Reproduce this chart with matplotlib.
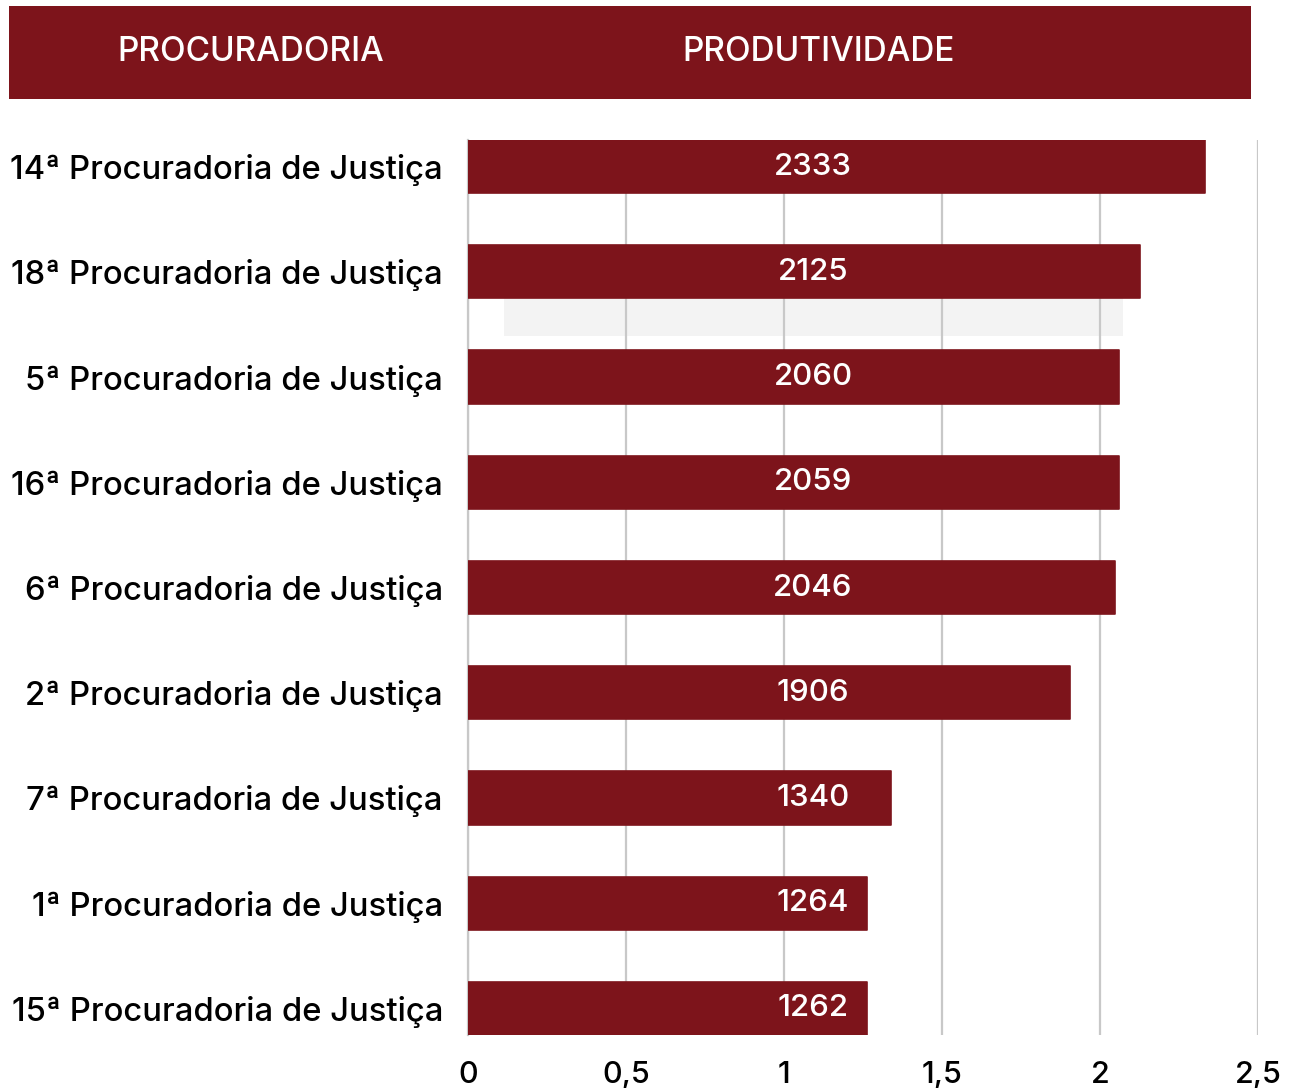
import matplotlib
matplotlib.use("Agg")
import matplotlib.pyplot as plt
from matplotlib.patches import Rectangle

categories = [
    "14ª Procuradoria de Justiça",
    "18ª Procuradoria de Justiça",
    "5ª Procuradoria de Justiça",
    "16ª Procuradoria de Justiça",
    "6ª Procuradoria de Justiça",
    "2ª Procuradoria de Justiça",
    "7ª Procuradoria de Justiça",
    "1ª Procuradoria de Justiça",
    "15ª Procuradoria de Justiça",
]
values = [2333, 2125, 2060, 2059, 2046, 1906, 1340, 1264, 1262]
xticks = [0, 0.5, 1, 1.5, 2, 2.5]
xtick_labels = ["0", "0,5", "1", "1,5", "2", "2,5"]
header_left = "PROCURADORIA"
header_right = "PRODUTIVIDADE"

RED = "#7d141b"
GRID = "#c8c8c8"
FONT = ["Inter", "DejaVu Sans"]

W, H = 1293, 1088
fig = plt.figure(figsize=(W / 100, H / 100), dpi=100)
fig.patch.set_facecolor("white")

# header band
fig.patches.append(Rectangle((9 / W, 1 - 99 / H), (1251 - 9) / W, (99 - 6) / H,
                             transform=fig.transFigure, facecolor=RED, edgecolor="none", zorder=0))
fig.text(251 / W, 1 - 52 / H, header_left, color="white", fontsize=24, ha="center", va="center",
         family=FONT, fontweight="medium")
fig.text(819 / W, 1 - 52 / H, header_right, color="white", fontsize=24, ha="center", va="center",
         family=FONT, fontweight="medium")

ax = fig.add_axes([468 / W, 1 - 1035 / H, (1258 - 468) / W, (1035 - 140) / H])
h = 0.504
n = len(categories)
ys = list(range(n))
vals = [v / 1000 for v in values]

# faint gray band artifact
ax.add_patch(Rectangle((0.114, 1 + h / 2), 2.073 - 0.114, 0.361, facecolor="#f3f3f3",
                       edgecolor="none", zorder=0.5))

ax.barh(ys, vals, height=h, color=RED, edgecolor=RED, linewidth=1.2, joinstyle="round", zorder=3)
for y, v, raw in zip(ys, vals, values):
    ax.text(1.092, y, str(raw), color="white", fontsize=22.5, ha="center", va="center",
            family=FONT, fontweight="medium", zorder=4)

ax.set_xlim(0, 2.5)
ax.set_ylim(n - 1 + h / 2, -h / 2)
ax.set_xticks(xticks)
ax.set_xticklabels(xtick_labels, family=FONT, fontsize=22, fontweight="medium")
ax.set_yticks(ys)
ax.set_yticklabels(categories, family=FONT, fontsize=23.6, fontweight="medium")
ax.tick_params(axis="x", length=0, pad=19, colors="black")
ax.tick_params(axis="y", length=0, pad=18, colors="black")
ax.grid(axis="x", color=GRID, linewidth=1.6, zorder=1)
ax.set_axisbelow(True)
for s in ["top", "right", "bottom"]:
    ax.spines[s].set_visible(False)
ax.spines["left"].set_color(GRID)
ax.spines["left"].set_linewidth(1.6)
ax.set_facecolor("none")

fig.savefig("out.png", dpi=100)
